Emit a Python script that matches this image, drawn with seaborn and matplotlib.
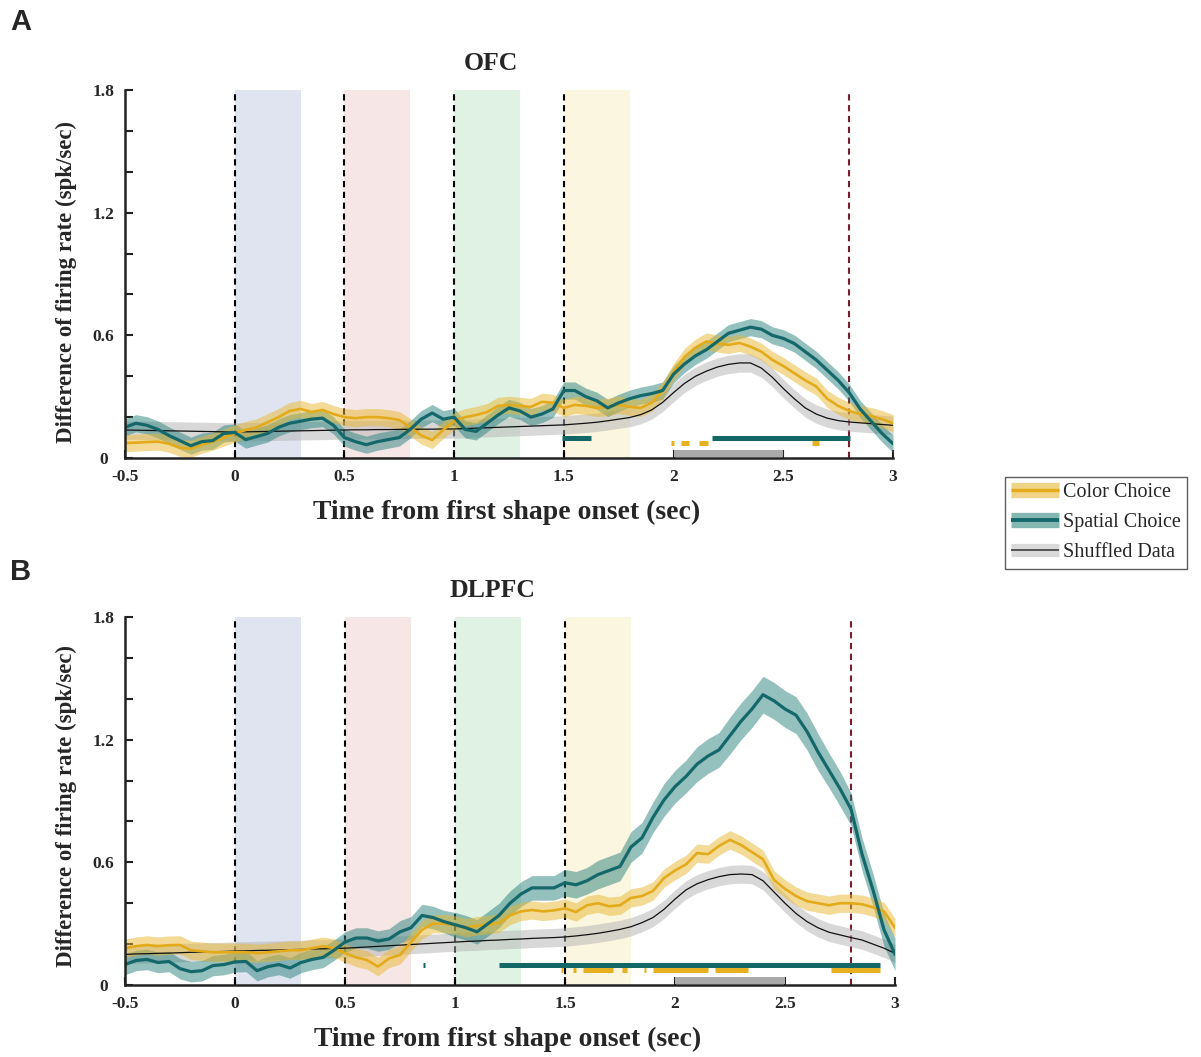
import numpy as np
import pandas as pd
import matplotlib
matplotlib.use("Agg")
import matplotlib.pyplot as plt
from matplotlib.lines import Line2D
import seaborn as sns

# ---------------- data ----------------
time_start, time_step, n_pts = -0.5, 0.05, 71

ofc_color = [0.073, 0.075, 0.078, 0.080, 0.070, 0.050, 0.045, 0.065, 0.080, 0.100,
             0.120, 0.137, 0.150, 0.175, 0.200, 0.230, 0.240, 0.225, 0.235, 0.215,
             0.200, 0.195, 0.200, 0.200, 0.195, 0.186, 0.150, 0.110, 0.088, 0.137,
             0.180, 0.200, 0.210, 0.225, 0.255, 0.260, 0.255, 0.250, 0.275, 0.270,
             0.245, 0.260, 0.255, 0.245, 0.250, 0.260, 0.250, 0.245, 0.270, 0.330,
             0.420, 0.495, 0.540, 0.570, 0.560, 0.553, 0.563, 0.545, 0.520, 0.480,
             0.450, 0.415, 0.380, 0.350, 0.290, 0.255, 0.230, 0.215, 0.205, 0.190, 0.170]
ofc_spatial = [0.150, 0.170, 0.160, 0.140, 0.110, 0.085, 0.060, 0.080, 0.085, 0.120,
               0.125, 0.090, 0.105, 0.120, 0.150, 0.170, 0.180, 0.190, 0.195, 0.160,
               0.100, 0.080, 0.065, 0.080, 0.090, 0.100, 0.140, 0.190, 0.220, 0.190,
               0.200, 0.140, 0.130, 0.170, 0.210, 0.245, 0.230, 0.200, 0.215, 0.240,
               0.330, 0.330, 0.300, 0.280, 0.245, 0.270, 0.290, 0.305, 0.315, 0.330,
               0.410, 0.460, 0.500, 0.530, 0.570, 0.610, 0.625, 0.640, 0.630, 0.600,
               0.585, 0.560, 0.520, 0.480, 0.430, 0.380, 0.320, 0.240, 0.180, 0.120, 0.070]
ofc_shuffled = [0.137, 0.136, 0.135, 0.134, 0.133, 0.132, 0.131, 0.130, 0.129, 0.128,
                0.127, 0.128, 0.129, 0.130, 0.131, 0.132, 0.133, 0.134, 0.135, 0.136,
                0.137, 0.138, 0.138, 0.139, 0.139, 0.140, 0.140, 0.141, 0.141, 0.142,
                0.142, 0.144, 0.146, 0.148, 0.150, 0.152, 0.154, 0.156, 0.158, 0.160,
                0.162, 0.166, 0.170, 0.175, 0.182, 0.190, 0.198, 0.212, 0.235, 0.272,
                0.320, 0.365, 0.400, 0.425, 0.445, 0.458, 0.465, 0.465, 0.440, 0.395,
                0.340, 0.290, 0.245, 0.215, 0.195, 0.183, 0.176, 0.172, 0.168, 0.164, 0.160]

dlpfc_color = [0.180, 0.190, 0.196, 0.190, 0.195, 0.196, 0.170, 0.165, 0.160, 0.160,
               0.160, 0.160, 0.155, 0.160, 0.165, 0.170, 0.170, 0.180, 0.190, 0.180,
               0.156, 0.135, 0.122, 0.090, 0.130, 0.147, 0.210, 0.270, 0.300, 0.300,
               0.294, 0.280, 0.290, 0.295, 0.303, 0.340, 0.360, 0.367, 0.360, 0.365,
               0.375, 0.357, 0.390, 0.400, 0.385, 0.390, 0.426, 0.435, 0.460, 0.523,
               0.560, 0.590, 0.645, 0.640, 0.680, 0.710, 0.685, 0.650, 0.615, 0.514,
               0.470, 0.435, 0.410, 0.400, 0.390, 0.400, 0.400, 0.395, 0.380, 0.360, 0.280]
dlpfc_spatial = [0.100, 0.120, 0.125, 0.110, 0.115, 0.080, 0.065, 0.070, 0.095, 0.100,
                 0.113, 0.115, 0.070, 0.090, 0.100, 0.083, 0.110, 0.125, 0.135, 0.170,
                 0.210, 0.230, 0.230, 0.215, 0.225, 0.260, 0.280, 0.340, 0.330, 0.310,
                 0.295, 0.280, 0.260, 0.300, 0.340, 0.400, 0.445, 0.475, 0.475, 0.475,
                 0.500, 0.490, 0.510, 0.540, 0.560, 0.580, 0.675, 0.720, 0.820, 0.905,
                 0.970, 1.020, 1.080, 1.120, 1.150, 1.220, 1.290, 1.350, 1.420, 1.390,
                 1.350, 1.320, 1.240, 1.140, 1.050, 0.960, 0.860, 0.640, 0.465, 0.270, 0.150]
dlpfc_shuffled = [0.150, 0.152, 0.153, 0.155, 0.156, 0.158, 0.160, 0.161, 0.163, 0.164,
                  0.166, 0.167, 0.169, 0.170, 0.171, 0.173, 0.174, 0.176, 0.177, 0.179,
                  0.180, 0.183, 0.186, 0.189, 0.192, 0.195, 0.198, 0.201, 0.204, 0.207,
                  0.210, 0.213, 0.215, 0.218, 0.220, 0.223, 0.225, 0.228, 0.230, 0.232,
                  0.235, 0.240, 0.246, 0.253, 0.262, 0.272, 0.285, 0.305, 0.330, 0.370,
                  0.420, 0.465, 0.495, 0.515, 0.530, 0.540, 0.543, 0.540, 0.510, 0.455,
                  0.400, 0.350, 0.310, 0.280, 0.258, 0.245, 0.232, 0.220, 0.200, 0.180, 0.155]

# error-band half widths (sem)
ofc_sem = {"color": 0.042, "spatial": 0.042, "shuffled": 0.045}
dlpfc_sem_color = 0.045
dlpfc_sem_shuffled = 0.045
dlpfc_sem_spatial = [0.05] * 20 + [0.05, 0.05, 0.05, 0.05, 0.05, 0.055, 0.055, 0.055, 0.055, 0.055] + \
    [0.06] * 10 + [0.065, 0.065, 0.065, 0.07, 0.07, 0.07, 0.075, 0.075, 0.075, 0.08] + \
    [0.08, 0.08, 0.085, 0.085, 0.085, 0.09, 0.09, 0.09, 0.09, 0.09] + \
    [0.09, 0.09, 0.09, 0.09, 0.085, 0.085, 0.08, 0.08, 0.08, 0.08, 0.08]

# significance segments (start, end) in seconds
ofc_sig_spatial = [(1.49, 1.625), (2.175, 2.805)]
ofc_sig_color = [(1.99, 2.0), (2.035, 2.07), (2.115, 2.155), (2.63, 2.665)]
dlpfc_sig_spatial = [(0.855, 0.865), (1.20, 2.93)]
dlpfc_sig_color = [(1.48, 1.49), (1.535, 1.55), (1.58, 1.72), (1.76, 1.78), (1.86, 1.87),
                   (1.90, 2.15), (2.18, 2.33), (2.71, 2.93)]
analysis_window = (2.0, 2.5)

epoch_starts = [0.0, 0.5, 1.0, 1.5]
epoch_len = 0.3
epoch_colors = ["#dfe4f0", "#f7e6e6", "#e0f2e4", "#fbf6df"]
choice_time = 2.8

xticks = [-0.5, 0, 0.5, 1, 1.5, 2, 2.5, 3]
xticklabels = ["-0.5", "0", "0.5", "1", "1.5", "2", "2.5", "3"]
yticks = [0, 0.2, 0.4, 0.6, 0.8, 1.0, 1.2, 1.4, 1.6, 1.8]
yticklabels = ["0", "", "", "0.6", "", "", "1.2", "", "", "1.8"]

legend_labels = ["Color Choice", "Spatial Choice", "Shuffled Data"]

# ---------------- style ----------------
sns.set_theme(style="ticks")
plt.rcParams["font.family"] = ["Liberation Serif", "DejaVu Serif"]

YEL_LINE, YEL_BAND = "#e3ab1c", "#e8b830"
TEAL_LINE, TEAL_BAND = "#15686a", "#2a827e"
GRAY_BAND = "#b3b3b3"
SIG_TEAL = "#146767"
SIG_YEL = "#e6b021"

t = time_start + time_step * np.arange(n_pts)

fig = plt.figure(figsize=(12.01, 10.57), dpi=100)
W, H = 1201, 1057
axA = fig.add_axes([125 / W, 1 - 458 / H, 768 / W, 368 / H])
axB = fig.add_axes([125 / W, 1 - 985 / H, 770 / W, 368 / H])


def draw_panel(ax, title, col, spa, shu, sem_c, sem_s, sem_g, sig_s, sig_c, ylab_y):
    # epoch shading and markers
    for s, c in zip(epoch_starts, epoch_colors):
        ax.axvspan(s, s + epoch_len, color=c, lw=0, zorder=0)
        ax.axvline(s, color="black", lw=1.5, ls=(0, (3, 2.2)), zorder=1)
    ax.axvline(choice_time, color="#7a1c2c", lw=1.5, ls=(0, (3, 2.2)), zorder=1)

    df = pd.DataFrame({"t": t, "color": col, "spatial": spa, "shuffled": shu})
    sem_c = np.asarray(sem_c) * np.ones(n_pts)
    sem_s = np.asarray(sem_s) * np.ones(n_pts)
    sem_g = np.asarray(sem_g) * np.ones(n_pts)

    ax.fill_between(df["t"], df["shuffled"] - sem_g, df["shuffled"] + sem_g,
                    color=GRAY_BAND, alpha=0.5, lw=0, zorder=2)
    ax.fill_between(df["t"], df["spatial"] - sem_s, df["spatial"] + sem_s,
                    color=TEAL_BAND, alpha=0.5, lw=0, zorder=3)
    ax.fill_between(df["t"], df["color"] - sem_c, df["color"] + sem_c,
                    color=YEL_BAND, alpha=0.5, lw=0, zorder=3)

    sns.lineplot(data=df, x="t", y="shuffled", ax=ax, color="#111111", lw=0.9,
                 legend=False, zorder=4)
    sns.lineplot(data=df, x="t", y="color", ax=ax, color=YEL_LINE, lw=1.9,
                 legend=False, zorder=5)
    sns.lineplot(data=df, x="t", y="spatial", ax=ax, color=TEAL_LINE, lw=2.3,
                 legend=False, zorder=6)

    # significance bars
    for a, b in sig_s:
        ax.hlines(0.098, a, b, color=SIG_TEAL, lw=3.6, zorder=7)
    for a, b in sig_c:
        ax.hlines(0.072, a, b, color=SIG_YEL, lw=3.6, zorder=7)
    ax.fill_between([analysis_window[0], analysis_window[1]], 0.004, 0.04,
                    color="#aaaaaa", lw=0, zorder=7)

    ax.set_xlim(-0.5, 3)
    ax.set_ylim(0, 1.8)
    sns.despine(ax=ax)
    for sp in ["left", "bottom"]:
        ax.spines[sp].set_linewidth(1.8)
        ax.spines[sp].set_color("#222222")
        ax.spines[sp].set_zorder(8)
    ax.set_xticks(xticks)
    ax.set_xticklabels(xticklabels, fontsize=12.5, fontweight="bold")
    ax.set_yticks(yticks)
    ax.set_yticklabels(yticklabels, fontsize=12.5, fontweight="bold", ha="center")
    ax.tick_params(direction="in", length=6, width=1.5, color="#222222")
    ax.tick_params(axis="x", pad=8)
    ax.tick_params(axis="y", pad=15.5)
    ax.set_xlabel("Time from first shape onset (sec)", fontsize=20, fontweight="bold")
    ax.set_ylabel("Difference of firing rate (spk/sec)", fontsize=16.5, fontweight="bold")
    ax.xaxis.set_label_coords(0.497, -0.114)
    ax.yaxis.set_label_coords(-0.062, ylab_y)
    ax.text(0.477, 1.073, title, transform=ax.transAxes, ha="center", va="center",
            fontsize=18.5, fontweight="bold")
    ax.set_facecolor("white")


draw_panel(axA, "OFC", ofc_color, ofc_spatial, ofc_shuffled,
           ofc_sem["color"], ofc_sem["spatial"], ofc_sem["shuffled"],
           ofc_sig_spatial, ofc_sig_color, 0.478)
draw_panel(axB, "DLPFC", dlpfc_color, dlpfc_spatial, dlpfc_shuffled,
           dlpfc_sem_color, dlpfc_sem_spatial, dlpfc_sem_shuffled,
           dlpfc_sig_spatial, dlpfc_sig_color, 0.487)

fig.text(10 / W, 1 - 22 / H, "A", fontsize=21, fontweight="bold",
         family=["Liberation Sans", "DejaVu Sans"], va="center", ha="left")
fig.text(10 / W, 1 - 572 / H, "B", fontsize=21, fontweight="bold",
         family=["Liberation Sans", "DejaVu Sans"], va="center", ha="left")

handles = [
    (Line2D([], [], color="#efd487", lw=11, solid_capstyle="butt"),
     Line2D([], [], color=YEL_LINE, lw=2.5, solid_capstyle="butt")),
    (Line2D([], [], color="#84b6b2", lw=11, solid_capstyle="butt"),
     Line2D([], [], color=TEAL_LINE, lw=2.8, solid_capstyle="butt")),
    (Line2D([], [], color="#d9d9d9", lw=9.5, solid_capstyle="butt"),
     Line2D([], [], color="#555555", lw=1.4, solid_capstyle="butt")),
]
leg = fig.legend(handles, legend_labels, loc="upper left",
                 bbox_to_anchor=(1005 / W, 1 - 477 / H), fontsize=14.5,
                 frameon=True, fancybox=False, edgecolor="#333333",
                 handlelength=2.4, handletextpad=0.2, labelspacing=0.55,
                 borderpad=0.3, borderaxespad=0)
leg.get_frame().set_linewidth(1.0)

fig.savefig("out.png", dpi=100, facecolor="white")
